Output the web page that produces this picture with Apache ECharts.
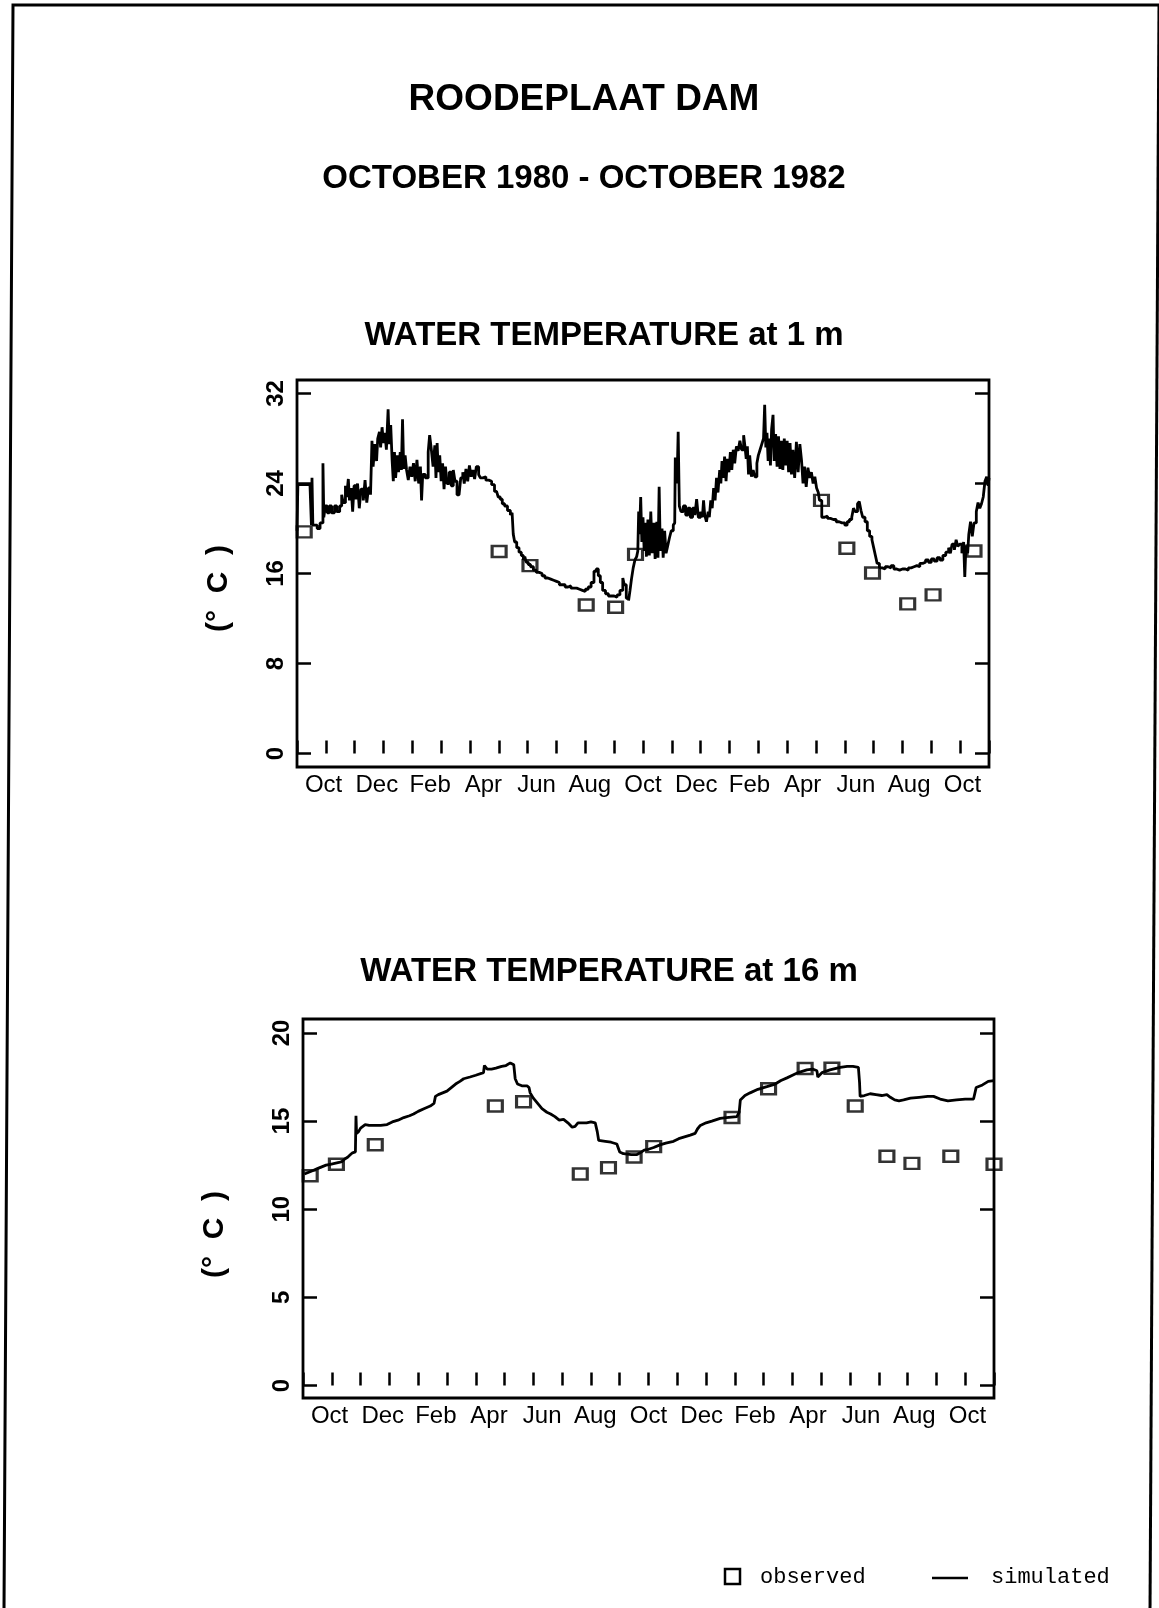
<!DOCTYPE html>
<html>
<head>
<meta charset="utf-8">
<title>Roodeplaat Dam water temperature</title>
<script src="https://cdn.jsdelivr.net/npm/echarts@6/dist/echarts.min.js"></script>
<style>
  html, body { margin: 0; padding: 0; background: #fff; }
  #chart { width: 1159px; height: 1608px; }
</style>
</head>
<body>
<div id="chart"></div>
<script>
// x values are months elapsed since 1 October 1980; y values are °C.
const monthLabels = ['Oct', 'Dec', 'Feb', 'Apr', 'Jun', 'Aug', 'Oct', 'Dec', 'Feb', 'Apr', 'Jun', 'Aug', 'Oct'];
const surfaceTicks = [0, 8, 16, 24, 32];
const deepTicks = [0, 5, 10, 15, 20];

// Simulated temperature at 1 m (daily model output, sampled)
const surfaceSimulated = [
  [0.00, 19.8], [0.03, 23.9], [0.45, 23.9], [0.50, 20.3], [0.52, 24.5], [0.55, 20.3], [0.70, 20.0], [0.80, 20.5],
  [0.90, 25.8], [0.93, 21.0], [0.98, 22.0], [1.05, 21.4], [1.12, 22.0], [1.20, 21.4], [1.30, 22.0], [1.38, 21.5],
  [1.48, 22.0], [1.55, 23.0], [1.60, 22.3], [1.68, 23.8], [1.72, 22.8], [1.78, 24.4], [1.82, 22.5], [1.88, 23.6],
  [1.93, 21.5], [1.98, 23.8], [2.05, 22.6], [2.10, 24.0], [2.16, 21.8], [2.22, 23.5], [2.30, 22.5], [2.36, 24.3],
  [2.42, 22.3], [2.48, 23.6], [2.55, 23.0], [2.60, 27.8], [2.64, 25.5], [2.70, 27.5], [2.76, 26.0], [2.80, 28.0],
  [2.86, 28.6], [2.90, 27.2], [2.95, 29.0], [3.00, 27.6], [3.05, 28.5], [3.10, 27.0], [3.16, 30.6], [3.20, 27.5],
  [3.25, 29.2], [3.30, 26.0], [3.34, 24.2], [3.38, 26.8], [3.42, 24.5], [3.48, 26.5], [3.52, 25.0], [3.58, 26.8],
  [3.62, 25.2], [3.66, 29.7], [3.70, 25.3], [3.75, 26.5], [3.80, 25.2], [3.86, 24.3], [3.92, 25.5], [3.98, 24.6],
  [4.04, 25.8], [4.10, 24.2], [4.16, 26.1], [4.22, 24.0], [4.28, 25.5], [4.32, 22.5], [4.36, 24.8], [4.45, 24.5],
  [4.55, 26.8], [4.60, 28.3], [4.66, 27.0], [4.72, 25.5], [4.78, 27.4], [4.82, 24.5], [4.86, 27.6], [4.90, 25.0],
  [4.95, 26.5], [5.00, 24.2], [5.05, 25.8], [5.10, 23.5], [5.15, 25.5], [5.20, 24.0], [5.28, 25.0], [5.35, 23.8],
  [5.42, 25.2], [5.48, 24.2], [5.55, 23.0], [5.62, 22.9], [5.68, 24.5], [5.75, 25.0], [5.80, 24.0], [5.86, 25.3],
  [5.92, 24.2], [5.98, 25.6], [6.04, 24.6], [6.10, 25.2], [6.16, 24.4], [6.22, 25.5], [6.30, 24.8], [6.36, 24.5],
  [6.45, 24.6], [6.55, 24.3], [6.65, 24.2], [6.75, 23.9], [6.85, 23.3], [6.92, 23.2], [6.98, 22.8], [7.05, 22.6],
  [7.12, 22.2], [7.20, 22.0], [7.30, 21.6], [7.40, 21.2], [7.46, 21.4], [7.50, 19.5], [7.55, 18.8], [7.62, 18.3],
  [7.70, 17.9], [7.78, 17.6], [7.85, 17.2], [7.90, 17.5], [7.95, 17.0], [8.02, 16.8], [8.10, 16.6], [8.20, 16.3],
  [8.30, 16.1], [8.40, 16.0], [8.50, 15.8], [8.60, 15.6], [8.70, 15.5], [8.80, 15.4], [8.90, 15.3], [9.00, 15.2],
  [9.10, 15.0], [9.20, 15.0], [9.30, 14.8], [9.40, 14.9], [9.50, 14.7], [9.60, 14.7], [9.70, 14.6], [9.80, 14.5],
  [9.90, 14.4], [10.00, 14.6], [10.10, 14.8], [10.20, 15.2], [10.30, 16.2], [10.38, 16.4], [10.45, 15.8], [10.52, 15.2],
  [10.60, 14.5], [10.70, 14.2], [10.80, 14.0], [10.90, 14.0], [11.00, 13.9], [11.10, 14.1], [11.20, 14.5], [11.30, 15.6],
  [11.35, 15.0], [11.42, 13.8], [11.50, 13.6], [11.55, 14.5], [11.60, 15.5], [11.66, 16.5], [11.72, 17.2], [11.78, 17.5],
  [11.82, 18.0], [11.85, 21.5], [11.88, 19.5], [11.92, 22.8], [11.96, 18.8], [12.00, 21.0], [12.04, 18.0], [12.08, 20.5],
  [12.12, 17.5], [12.17, 20.8], [12.22, 17.6], [12.27, 21.5], [12.32, 17.8], [12.38, 20.5], [12.42, 17.3], [12.48, 20.6],
  [12.52, 17.4], [12.56, 23.7], [12.60, 18.0], [12.66, 20.0], [12.70, 17.4], [12.75, 19.8], [12.80, 17.8], [12.86, 18.5],
  [12.92, 19.2], [12.98, 19.8], [13.05, 20.3], [13.10, 20.5], [13.12, 26.3], [13.18, 24.0], [13.22, 28.6], [13.26, 22.0],
  [13.32, 21.5], [13.40, 22.0], [13.48, 21.2], [13.56, 21.8], [13.64, 21.0], [13.72, 21.8], [13.80, 21.2], [13.86, 22.6],
  [13.92, 21.0], [14.00, 21.5], [14.06, 21.0], [14.10, 22.5], [14.14, 21.2], [14.20, 20.6], [14.26, 21.5], [14.30, 21.0],
  [14.35, 22.5], [14.40, 21.8], [14.45, 23.6], [14.50, 22.5], [14.55, 24.5], [14.60, 23.2], [14.66, 25.2], [14.70, 24.0],
  [14.74, 26.0], [14.78, 24.5], [14.83, 26.4], [14.88, 24.2], [14.93, 26.2], [14.98, 25.0], [15.03, 26.8], [15.08, 25.2],
  [15.13, 27.0], [15.18, 25.8], [15.24, 27.3], [15.30, 26.9], [15.36, 27.8], [15.42, 27.0], [15.49, 28.3], [15.54, 27.2],
  [15.58, 26.2], [15.62, 27.3], [15.66, 24.8], [15.70, 26.5], [15.76, 24.6], [15.82, 25.2], [15.88, 24.6], [15.95, 25.8],
  [16.00, 26.5], [16.06, 27.0], [16.12, 27.5], [16.18, 28.0], [16.22, 31.0], [16.26, 27.2], [16.30, 28.5], [16.34, 26.0],
  [16.38, 28.0], [16.42, 25.6], [16.46, 28.8], [16.51, 30.1], [16.55, 26.0], [16.60, 28.4], [16.65, 25.5], [16.70, 28.2],
  [16.75, 25.3], [16.80, 27.8], [16.85, 25.2], [16.90, 28.0], [16.95, 25.6], [17.00, 27.8], [17.05, 25.0], [17.10, 27.6],
  [17.15, 24.8], [17.20, 27.0], [17.26, 24.5], [17.32, 27.7], [17.38, 25.0], [17.44, 27.5], [17.50, 26.0], [17.55, 24.0],
  [17.60, 25.5], [17.66, 23.7], [17.72, 25.4], [17.78, 24.5], [17.84, 25.0], [17.90, 24.0], [17.96, 24.6], [18.02, 23.6],
  [18.08, 23.2], [18.12, 22.5], [18.20, 21.0], [18.30, 21.1], [18.40, 20.9], [18.50, 20.8], [18.60, 20.8], [18.70, 20.6],
  [18.80, 20.5], [18.90, 20.5], [19.00, 20.3], [19.08, 20.6], [19.16, 20.8], [19.24, 21.0], [19.30, 21.8], [19.36, 21.5],
  [19.44, 22.2], [19.50, 22.4], [19.56, 21.6], [19.62, 21.0], [19.70, 20.6], [19.78, 19.8], [19.86, 19.3], [19.94, 19.0],
  [20.00, 18.3], [20.06, 17.6], [20.12, 16.9], [20.20, 16.5], [20.30, 16.4], [20.40, 16.6], [20.50, 16.5], [20.60, 16.7],
  [20.70, 16.4], [20.80, 16.3], [20.90, 16.4], [21.00, 16.4], [21.10, 16.3], [21.20, 16.5], [21.30, 16.6], [21.40, 16.7],
  [21.50, 16.6], [21.60, 16.9], [21.70, 17.0], [21.80, 17.2], [21.90, 17.0], [22.00, 17.3], [22.10, 17.1], [22.20, 17.4],
  [22.30, 17.2], [22.40, 17.6], [22.50, 17.9], [22.60, 18.3], [22.66, 17.8], [22.72, 18.6], [22.80, 18.1], [22.86, 19.0],
  [22.92, 18.4], [22.98, 18.6], [23.06, 17.8], [23.12, 18.8], [23.16, 15.7], [23.20, 18.5], [23.26, 17.8], [23.30, 19.5],
  [23.36, 20.6], [23.42, 19.3], [23.48, 20.5], [23.56, 21.5], [23.62, 22.3], [23.68, 21.8], [23.74, 22.2], [23.80, 22.8],
  [23.86, 24.2], [23.92, 24.6], [23.97, 23.8], [24.00, 24.5]
];

// Observed temperature at 1 m
const surfaceObserved = [
  [0.25, 19.7], [7.01, 17.95], [8.08, 16.7], [10.03, 13.2], [11.05, 13.0], [11.74, 17.7],
  [18.19, 22.5], [19.07, 18.25], [19.96, 16.05], [21.18, 13.3], [22.06, 14.1], [23.48, 18.0]
];

// Simulated temperature at 16 m
const deepSimulated = [
  [0.05, 12.0], [0.20, 12.1], [0.35, 12.2], [0.50, 12.3], [0.65, 12.4], [0.80, 12.5], [0.95, 12.55], [1.10, 12.6],
  [1.25, 12.65], [1.35, 12.7], [1.45, 12.85], [1.55, 12.95], [1.65, 13.1], [1.72, 13.2], [1.82, 13.25], [1.84, 15.3],
  [1.86, 14.3], [1.93, 14.4], [2.00, 14.6], [2.08, 14.7], [2.16, 14.8], [2.30, 14.75], [2.50, 14.75], [2.70, 14.75],
  [2.92, 14.8], [3.10, 14.95], [3.30, 15.05], [3.50, 15.2], [3.70, 15.3], [3.84, 15.4], [4.00, 15.55], [4.20, 15.7],
  [4.42, 15.85], [4.55, 16.0], [4.60, 16.4], [4.70, 16.5], [4.85, 16.6], [5.00, 16.7], [5.15, 16.9], [5.30, 17.1],
  [5.45, 17.25], [5.58, 17.4], [5.80, 17.5], [6.00, 17.6], [6.27, 17.75], [6.30, 18.15], [6.40, 17.95], [6.55, 17.95],
  [6.70, 18.0], [6.90, 18.1], [7.05, 18.15], [7.20, 18.3], [7.26, 18.4], [7.32, 18.2], [7.37, 17.4], [7.45, 17.1],
  [7.60, 17.0], [7.78, 17.0], [7.85, 16.9], [7.89, 16.6], [8.00, 16.3], [8.15, 16.0], [8.30, 15.7], [8.47, 15.5],
  [8.60, 15.4], [8.75, 15.25], [8.90, 15.05], [9.05, 15.1], [9.20, 14.9], [9.35, 14.65], [9.45, 14.7], [9.55, 14.9],
  [9.70, 14.9], [9.85, 14.9], [10.00, 14.95], [10.15, 14.9], [10.22, 14.4], [10.27, 13.9], [10.50, 13.85], [10.70, 13.8],
  [10.90, 13.7], [11.00, 13.25], [11.13, 13.15], [11.40, 13.1], [11.60, 13.1], [11.71, 13.2], [11.85, 13.35], [12.00, 13.4],
  [12.18, 13.5], [12.40, 13.65], [12.60, 13.75], [12.87, 13.85], [13.05, 14.0], [13.25, 14.1], [13.45, 14.2], [13.62, 14.3],
  [13.70, 14.55], [13.80, 14.75], [14.00, 14.9], [14.20, 15.0], [14.49, 15.15], [14.70, 15.2], [15.07, 15.25], [15.15, 15.5],
  [15.19, 16.2], [15.35, 16.45], [15.53, 16.6], [15.80, 16.8], [16.11, 16.95], [16.40, 17.1], [16.60, 17.3], [16.81, 17.45],
  [17.00, 17.6], [17.20, 17.75], [17.50, 17.9], [17.70, 17.95], [17.85, 17.85], [17.88, 17.5], [18.03, 17.75], [18.30, 17.9],
  [18.66, 18.05], [18.90, 18.1], [19.10, 18.1], [19.29, 18.05], [19.33, 17.2], [19.35, 16.4], [19.50, 16.45], [19.70, 16.55],
  [19.90, 16.5], [20.10, 16.45], [20.28, 16.5], [20.40, 16.35], [20.55, 16.2], [20.70, 16.15], [20.86, 16.2], [21.10, 16.3],
  [21.40, 16.35], [21.70, 16.4], [21.90, 16.4], [22.13, 16.25], [22.40, 16.15], [22.70, 16.2], [23.00, 16.25], [23.29, 16.25],
  [23.38, 16.9], [23.60, 17.05], [23.80, 17.25], [24.00, 17.3]
];

// Observed temperature at 16 m
const deepObserved = [
  [0.25, 11.9], [1.16, 12.55], [2.51, 13.65], [6.68, 15.85], [7.66, 16.1], [9.63, 12.0],
  [10.61, 12.35], [11.50, 12.96], [12.18, 13.55], [14.90, 15.2], [16.17, 16.83], [17.44, 17.98],
  [18.37, 18.0], [19.18, 15.85], [20.28, 13.0], [21.15, 12.6], [22.50, 13.0], [24.00, 12.55]
];

const INK = '#000';
const SANS = '"Liberation Sans", Arial, Helvetica, sans-serif';
const MONO = '"Liberation Mono", "Courier New", monospace';

// Month axis: one tick per month, labels come from the category axis below it
function monthAxis(gridIndex) {
  return {
    type: 'value', gridIndex, min: 0, max: 24, interval: 1,
    axisLine: { show: false },
    axisTick: { show: true, inside: true, length: 13, lineStyle: { color: INK, width: 2.5 } },
    axisLabel: { show: false },
    splitLine: { show: false }
  };
}
function monthLabelAxis(gridIndex) {
  return {
    type: 'category', gridIndex, position: 'bottom', data: monthLabels, boundaryGap: true,
    axisLine: { show: false }, axisTick: { show: false }, splitLine: { show: false },
    axisLabel: { show: true, interval: 0, margin: 6, color: INK, fontFamily: SANS, fontSize: 24 }
  };
}
// Temperature axis on the left, with its rotated unit name pushed a little below centre
function tempAxis(gridIndex, min, max, ticks, nameGap, nameShift) {
  return {
    type: 'value', gridIndex, position: 'left', min, max,
    name: '(\u00B0  C  )', nameLocation: 'middle', nameRotate: 90, nameGap,
    nameTextStyle: { color: INK, fontFamily: SANS, fontSize: 30, fontWeight: 'bold', padding: [0, nameShift, 0, 0] },
    axisLine: { show: false },
    axisTick: { show: true, inside: true, length: 14, customValues: ticks, lineStyle: { color: INK, width: 2.5 } },
    axisLabel: { show: true, rotate: 90, margin: 9, customValues: ticks, color: INK, fontFamily: SANS, fontSize: 24, fontWeight: 'bold' },
    splitLine: { show: false }
  };
}
function tempAxisRight(gridIndex, min, max, ticks) {
  return {
    type: 'value', gridIndex, position: 'right', min, max,
    axisLine: { show: false },
    axisTick: { show: true, inside: true, length: 14, customValues: ticks, lineStyle: { color: INK, width: 2.5 } },
    axisLabel: { show: false },
    splitLine: { show: false }
  };
}
function frame(left, top, width, height) {
  return { left, top, width, height, show: true, borderColor: INK, borderWidth: 2.8, backgroundColor: 'transparent' };
}
function titleText(text, x, y, size) {
  return { type: 'text', x, y, style: { text, fill: INK, font: 'bold ' + size + 'px ' + SANS, align: 'center', verticalAlign: 'middle' } };
}
function simulatedSeries(data, axisIndex, step) {
  return {
    type: 'line', name: 'simulated', xAxisIndex: axisIndex * 2, yAxisIndex: axisIndex * 2, data, step,
    symbol: 'none', lineStyle: { color: INK, width: 2.8 }, z: 3
  };
}
function observedSeries(data, axisIndex) {
  return {
    type: 'scatter', name: 'observed', xAxisIndex: axisIndex * 2, yAxisIndex: axisIndex * 2, data,
    symbol: 'rect', symbolSize: [14, 11],
    itemStyle: { color: 'rgba(255,255,255,0)', borderColor: INK, borderWidth: 2.8 }, z: 4
  };
}

const chart = echarts.init(document.getElementById('chart'), null, { renderer: 'canvas' });
chart.setOption({
  animation: false,
  backgroundColor: '#fff',
  grid: [frame(297, 380, 692, 387), frame(303, 1019, 691, 379)],
  xAxis: [monthAxis(0), monthLabelAxis(0), monthAxis(1), monthLabelAxis(1)],
  yAxis: [
    tempAxis(0, -1.2, 33.2, surfaceTicks, 63, 30), tempAxisRight(0, -1.2, 33.2, surfaceTicks),
    tempAxis(1, -0.71, 20.79, deepTicks, 73, 52), tempAxisRight(1, -0.71, 20.79, deepTicks)
  ],
  series: [
    simulatedSeries(surfaceSimulated, 0, 'end'),
    observedSeries(surfaceObserved, 0),
    simulatedSeries(deepSimulated, 1, false),
    observedSeries(deepObserved, 1)
  ],
  graphic: [
    // page frame
    { type: 'polyline', shape: { points: [[4, 1608], [13, 5], [1159, 5]] }, style: { stroke: INK, lineWidth: 3, fill: null } },
    { type: 'line', shape: { x1: 1159, y1: 5, x2: 1150, y2: 1608 }, style: { stroke: INK, lineWidth: 3 } },
    titleText('ROODEPLAAT DAM', 584, 100, 37),
    titleText('OCTOBER 1980 - OCTOBER 1982', 584, 179, 33),
    titleText('WATER TEMPERATURE at 1 m', 604, 336, 33),
    titleText('WATER TEMPERATURE at 16 m', 609, 972, 33),
    // key
    { type: 'rect', shape: { x: 725, y: 1569, width: 15, height: 15 }, style: { stroke: INK, lineWidth: 2.5, fill: null } },
    { type: 'text', x: 760, y: 1577, style: { text: 'observed', fill: INK, font: '22px ' + MONO, align: 'left', verticalAlign: 'middle' } },
    { type: 'line', shape: { x1: 932, y1: 1578, x2: 968, y2: 1578 }, style: { stroke: INK, lineWidth: 2.5 } },
    { type: 'text', x: 991, y: 1577, style: { text: 'simulated', fill: INK, font: '22px ' + MONO, align: 'left', verticalAlign: 'middle' } }
  ]
});
</script>
</body>
</html>
